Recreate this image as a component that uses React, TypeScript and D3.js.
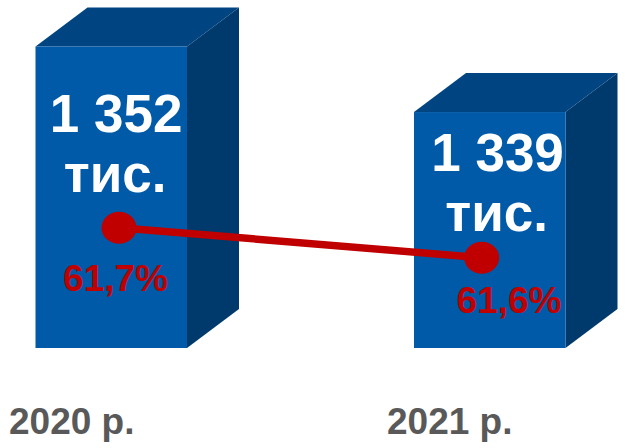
import React from "react";
import * as d3 from "d3";

const years = ["2020 р.", "2021 р."];
const totals = [1352, 1339];
const totalLabels = ["1 352", "1 339"];
const unitLabel = "тис.";
const shares = [61.7, 61.6];
const shareLabels = ["61,7%", "61,6%"];

const W = 625;
const H = 448;
const BAR_W = 151.5;
const DX = 52;
const DY = 39;

const FONT = '"Liberation Sans", Arial, sans-serif';

export default function App() {
  const x = d3.scalePoint<string>().domain(years).range([35.5, 414]);
  const y = d3.scaleLinear().domain([1292.2, 1352]).range([348, 46.5]);
  const yShare = d3.scaleLinear().domain([61.6, 61.7]).range([257.7, 227.8]);
  const xDot = d3.scalePoint<string>().domain(years).range([119, 481.7]);
  const line = d3
    .line<number>()
    .x((_, i) => xDot(years[i]) as number)
    .y((d) => yShare(d));

  const totalDx = [4.9, 7.8];
  const unitDx = [3.8, 6.8];
  const shareDx = [4.3, 19.3];
  const shareBase = [291, 313];
  const totalBase = [132, 171];
  const unitBase = [192, 231];

  return (
    <svg
      width={W}
      height={H}
      viewBox={`0 0 ${W} ${H}`}
      style={{ position: "absolute", left: 0, top: 0, background: "#fff" }}
    >
      {years.map((yr, i) => {
        const x0 = x(yr) as number;
        const x1 = x0 + BAR_W;
        const top = y(totals[i]);
        const bottom = y.range()[0];
        const cx = x0 + BAR_W / 2;
        return (
          <g key={yr}>
            <polygon
              points={`${x0},${top} ${x1},${top} ${x1 + DX},${top - DY} ${x0 + DX},${top - DY}`}
              fill="#004582"
            />
            <polygon
              points={`${x1},${top} ${x1 + DX},${top - DY} ${x1 + DX},${bottom - DY} ${x1},${bottom}`}
              fill="#003a6c"
            />
            <rect x={x0} y={top} width={BAR_W} height={bottom - top} fill="#005aa8" />
            <text
              x={cx + totalDx[i]}
              y={totalBase[i]}
              textAnchor="middle"
              fontFamily={FONT}
              fontWeight={700}
              fontSize={53}
              fill="#fff"
            >
              {totalLabels[i]}
            </text>
            <text
              x={cx + unitDx[i]}
              y={unitBase[i]}
              textAnchor="middle"
              fontFamily={FONT}
              fontWeight={700}
              fontSize={53}
              fill="#fff"
            >
              {unitLabel}
            </text>
          </g>
        );
      })}
      <path d={line(shares) as string} fill="none" stroke="#c00000" strokeWidth={7.5} />
      {years.map((yr, i) => (
        <ellipse
          key={yr}
          cx={xDot(yr) as number}
          cy={yShare(shares[i])}
          rx={17.5}
          ry={16}
          fill="#c00000"
        />
      ))}
      {years.map((yr, i) => (
        <text
          key={yr}
          x={(x(yr) as number) + BAR_W / 2 + shareDx[i]}
          y={shareBase[i]}
          textAnchor="middle"
          fontFamily={FONT}
          fontWeight={700}
          fontSize={37}
          fill="#c00000"
        >
          {shareLabels[i]}
        </text>
      ))}
      {years.map((yr, i) => (
        <text
          key={yr}
          x={[9, 387][i]}
          y={434}
          fontFamily={FONT}
          fontWeight={700}
          fontSize={37}
          fill="#595959"
        >
          {yr}
        </text>
      ))}
    </svg>
  );
}
